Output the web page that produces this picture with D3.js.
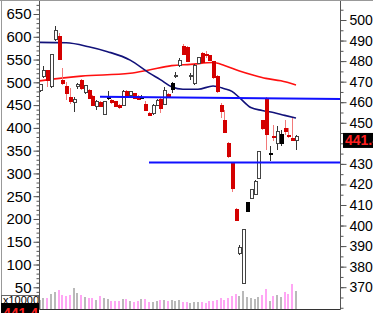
<!DOCTYPE html>
<html>
<head>
<meta charset="utf-8">
<script src="https://cdn.jsdelivr.net/npm/d3@7"></script>
<style>
  body { margin: 0; background: #fff; }
  svg { display: block; }
  text { font-family: "Liberation Sans", Arial, sans-serif; }
</style>
</head>
<body>
<svg id="chart" width="373" height="313"></svg>
<script>
// daily candles, right-hand price scale
const candleOpen  = [465.6,472.4,475.3,467.5,490.6,492.2,470.8,467.5,462.5,459.7,467.5,470.8,464.5,465.9,462.7,458.1,460.1,454.1,462.4,461.0,460.2,458.6,458.6,465.1,463.5,464.0,463.0,462.5,459.0,454.6,454.6,458.3,461.4,459.1,463.8,466.4,472.4,477.8,483.3,486.5,473.2,469.2,478.9,479.4,483.4,482.6,479.7,472.7,458.3,451.3,440.0,430.2,408.0,389.3,372.0,406.9,413.0,415.3,423.1,447.1,462.0,435.2,443.4,445.8,440.1,445.8,443.6,442.2,443.4];
const candleHigh  = [469.0,477.6,475.6,483.5,497.1,493.7,476.6,470.0,467.0,462.5,469.5,471.5,468.5,466.5,463.5,461.0,460.5,460.8,465.4,461.5,460.5,459.0,466.0,466.0,465.5,464.5,463.5,463.5,460.5,455.0,459.0,461.5,462.0,467.5,464.5,470.0,474.5,481.5,488.2,487.5,474.0,478.5,482.0,484.5,484.9,483.0,480.2,473.2,459.4,456.2,440.5,430.5,408.5,390.5,398.2,411.3,417.6,422.0,436.5,451.5,462.5,438.5,448.7,448.2,446.6,451.5,447.4,452.3,444.2];
const candleLow   = [465.0,471.8,467.5,467.0,490.0,480.5,468.5,461.0,459.0,455.4,466.5,466.0,464.0,461.5,458.0,456.2,457.5,453.8,461.0,459.0,457.5,456.5,458.0,463.0,463.0,461.5,461.0,461.5,455.7,453.5,454.0,458.0,454.7,458.5,462.0,464.5,472.0,477.0,483.0,479.5,470.8,468.5,478.5,479.0,481.4,480.0,471.5,464.5,452.1,445.0,432.7,416.4,402.0,385.5,371.5,406.5,412.7,415.0,422.5,446.5,436.9,431.2,440.9,436.9,438.5,444.2,442.5,441.4,436.9];
const candleClose = [468.4,475.3,470.8,483.0,495.1,480.9,469.2,464.3,460.5,461.5,468.8,466.9,467.9,462.0,458.6,460.2,458.1,460.2,462.4,459.7,458.1,457.5,465.1,463.5,465.1,462.0,461.4,462.5,456.2,453.7,458.6,460.6,457.0,465.9,462.7,469.2,472.9,480.5,487.0,480.0,472.4,477.8,481.6,483.8,482.6,480.5,472.1,465.1,455.7,445.3,433.4,418.1,402.6,386.4,397.9,411.0,417.4,421.5,436.1,451.0,444.2,434.8,443.4,440.1,444.2,447.1,443.2,441.6,441.4];
// w = white (up), r = red (down), k = black
const candleKind = "wwrwwrrrrwwrwrrwrwkrrrwrwrrkrrwwrwrkwwrrwwwrrrrrrrrrrwwkwwwrrkrwkrrr".split("");

// volume, x10000
const volume = [18,22,23,30,34,39,29,27,29,42,33,29,24,23,23,19,26,22,20,17,17,17,21,20,17,15,17,21,21,15,15,17,19,19,17,18,16,18,15,15,13,15,14,15,13,17,17,19,23,19,23,26,31,26,37,25,22,21,25,29,40,17,27,29,24,34,30,51,37];

// moving averages (candle index, price)
const maNavyIdx = [0,7,13,18,24,29,32,35,38,42,46,49,51,53,56,59,62,65,68];
const maNavyVal = [489.1,488.9,487.0,484.6,480.5,474.3,471.0,467.5,466.3,466.3,467.9,466.6,465.3,462.2,457.4,456.0,455.0,453.6,452.3];
const maRedIdx = [0,11,24,29,35,40,46,49,53,57,60,64,68];
const maRedVal = [470.4,472.7,474.1,475.7,477.8,478.4,479.3,477.9,475.2,473.0,471.6,470.4,468.4];

// blue support / resistance lines
const levelStartIdx = [16, 29];
const levelStartVal = [462.6, 430.7];
const levelEndVal   = [461.6, 430.7];

const leftTicks  = [50,100,150,200,250,300,350,400,450,500,550,600,650];
// 440 sits under the last-price tag, so it has no label
const rightTicks = [370,380,390,400,410,420,430,450,460,470,480,490,500];
const lastPrice = "441.4";

const W = 373, H = 313;
const plotL = 39.5, plotR = 340.5, plotT = 0, plotB = 309.5;

const svg = d3.select("#chart");

const xS = d3.scaleLinear().domain([0, 68]).range([39.7, 296]);
const yR = d3.scaleLinear().domain([370, 500]).range([287.2, 20]);
const yL = d3.scaleLinear().domain([50, 650]).range([287.3, 14]);
const yV = d3.scaleLinear().domain([0, 60]).range([309, 279]);

svg.append("defs").append("clipPath").attr("id", "plot")
  .append("rect").attr("x", plotL).attr("y", plotT).attr("width", plotR - plotL).attr("height", plotB - plotT);

const plot = svg.append("g").attr("clip-path", "url(#plot)");

const candles = candleOpen.map((o, i) => ({
  i, o, h: candleHigh[i], l: candleLow[i], c: candleClose[i], k: candleKind[i], v: volume[i]
}));

// volume bars
plot.append("g").attr("shape-rendering", "crispEdges")
  .selectAll("rect").data(candles).join("rect")
  .attr("x", d => Math.round(xS(d.i)) - 1)
  .attr("width", 2)
  .attr("y", d => yV(d.v))
  .attr("height", d => yV(0) - yV(d.v))
  .attr("fill", d => d.k === "r" ? "#ffa6f4" : "#b9b9b9");

// moving averages
const maLine = d3.line().x(d => xS(d[0])).y(d => yR(d[1])).curve(d3.curveMonotoneX);
plot.append("path")
  .attr("d", maLine(maRedIdx.map((v, i) => [v, maRedVal[i]])))
  .attr("fill", "none").attr("stroke", "#ff1010").attr("stroke-width", 1.6);
plot.append("path")
  .attr("d", maLine(maNavyIdx.map((v, i) => [v, maNavyVal[i]])))
  .attr("fill", "none").attr("stroke", "#12127a").attr("stroke-width", 1.6);

// candles
const cg = plot.append("g").attr("shape-rendering", "crispEdges");
cg.selectAll("line").data(candles).join("line")
  .attr("x1", d => Math.round(xS(d.i)) + 0.5)
  .attr("x2", d => Math.round(xS(d.i)) + 0.5)
  .attr("y1", d => yR(d.h))
  .attr("y2", d => yR(d.l))
  .attr("stroke", d => d.k === "r" ? "#f27a7a" : "#333")
  .attr("stroke-width", 1);
cg.selectAll("rect").data(candles).join("rect")
  .attr("x", d => Math.round(xS(d.i)) - 1)
  .attr("width", 3)
  .attr("y", d => yR(Math.max(d.o, d.c)))
  .attr("height", d => Math.max(1, Math.abs(yR(d.o) - yR(d.c))))
  .attr("fill", d => d.k === "r" ? "#d40000" : d.k === "k" ? "#000" : "#fff")
  .attr("stroke", d => d.k === "r" ? "#d40000" : d.k === "k" ? "#000" : "#444")
  .attr("stroke-width", 1);

// support / resistance
plot.selectAll("line.level").data(levelStartIdx).join("line")
  .attr("class", "level")
  .attr("x1", d => xS(d))
  .attr("x2", plotR)
  .attr("y1", (d, i) => yR(levelStartVal[i]))
  .attr("y2", (d, i) => yR(levelEndVal[i]))
  .attr("stroke", "#1010ff").attr("stroke-width", 2);

// axes
const axisColor = "#555";
function styleAxis(g, size) {
  g.select(".domain").remove();
  g.selectAll("line").attr("stroke", axisColor);
  g.selectAll("text").attr("fill", "#000").style("font-size", size + "px");
}

svg.append("g").attr("transform", `translate(${plotL},0)`)
  .call(d3.axisLeft(yL).tickValues(d3.range(40, 680, 10)).tickSize(3).tickFormat(""))
  .call(styleAxis, 15);
svg.append("g").attr("transform", `translate(${plotL},0)`)
  .call(d3.axisLeft(yL).tickValues(leftTicks).tickSize(6).tickPadding(2))
  .call(styleAxis, 15);

svg.append("g").attr("transform", `translate(${plotR},0)`)
  .call(d3.axisRight(yR).tickValues(d3.range(360, 510, 5)).tickSize(3).tickFormat(""))
  .call(styleAxis, 14);
svg.append("g").attr("transform", `translate(${plotR},0)`)
  .call(d3.axisRight(yR).tickValues(rightTicks).tickSize(6).tickPadding(3))
  .call(styleAxis, 14);

// frame lines
svg.append("line").attr("x1", plotL).attr("x2", plotL).attr("y1", 0).attr("y2", plotB).attr("stroke", axisColor);
svg.append("line").attr("x1", plotR).attr("x2", plotR).attr("y1", 0).attr("y2", plotB).attr("stroke", axisColor);
svg.append("line").attr("x1", plotL).attr("x2", plotR).attr("y1", plotB).attr("y2", plotB).attr("stroke", "#333");
svg.append("line").attr("x1", 0).attr("x2", W).attr("y1", 0.5).attr("y2", 0.5).attr("stroke", "#999");
svg.append("line").attr("x1", 1.5).attr("x2", 1.5).attr("y1", 0).attr("y2", 297).attr("stroke", "#999");

// last price tag on right axis
const tagY = yR(+lastPrice);
svg.append("rect").attr("x", 343).attr("y", tagY - 7.5).attr("width", 30).attr("height", 15).attr("fill", "#000");
svg.append("text").attr("x", 345).attr("y", tagY + 5).attr("fill", "#ff2020")
  .style("font-size", "14px").style("font-weight", "bold").text(lastPrice);

// bottom-left volume unit box and clipped tag
svg.append("rect").attr("x", 1.5).attr("y", 295.5).attr("width", 37).attr("height", 8).attr("fill", "#fff").attr("stroke", "#666");
svg.append("clipPath").attr("id", "unit").append("rect").attr("x", 2).attr("y", 296).attr("width", 36).attr("height", 7);
svg.append("text").attr("x", 3).attr("y", 304).attr("clip-path", "url(#unit)")
  .style("font-size", "11px").attr("fill", "#000").text("x10000");
svg.append("rect").attr("x", 1).attr("y", 303).attr("width", 38).attr("height", 10).attr("fill", "#000");
svg.append("text").attr("x", 3).attr("y", 318).attr("fill", "#ff2020")
  .style("font-size", "14px").style("font-weight", "bold").text(lastPrice);
</script>
</body>
</html>
